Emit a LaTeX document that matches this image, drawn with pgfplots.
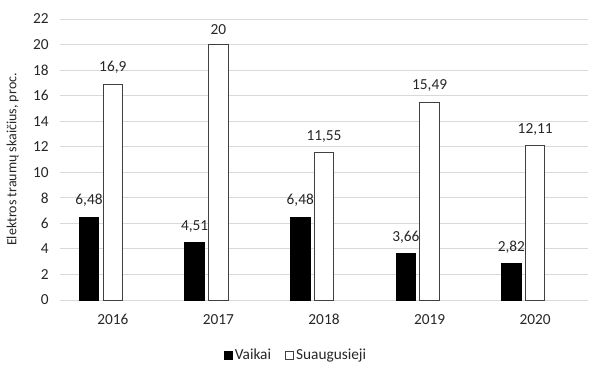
\documentclass[border=0pt]{standalone}
\usepackage{pgfplots}
\pgfplotsset{compat=1.18}
\usepackage{pgfplotstable}
\usepackage{fontspec}
\setmainfont{Carlito}
\pgfplotstableread{
x y
-0.225 6.48
0.775 4.51
1.775 6.48
2.775 3.66
3.775 2.82
}\vaikai
\pgfplotstableread{
x y
0 16.9
1 20
2 11.55
3 15.49
4 12.11
}\suaug
\pgfplotsset{sqleg/.style={legend image code/.code={\draw[##1] (0pt,-3pt) rectangle (6pt,3pt);}}}
\begin{document}
\begin{tikzpicture}
\begin{axis}[
  scale only axis, width=396pt, height=210.75pt,
  xmin=-0.5, xmax=4.5, ymin=0, ymax=22,
  ytick={0,2,...,22}, xtick={0,1,2,3,4}, xticklabels={2016,2017,2018,2019,2020},
  axis line style={draw=none}, major tick style={draw=none},
  ymajorgrids, grid style={draw=black!15, line width=0.75pt},
  ybar, bar width=0.185, bar shift=0pt,
  nodes near coords,
  every node near coord/.append style={font=\fontsize{11.5}{13}\selectfont, text=black!85, yshift=4pt},
  /pgf/number format/use comma,
  /pgf/number format/assume math mode=true,
  tick label style={font=\fontsize{11.5}{13}\selectfont, text=black!85},
  yticklabel style={xshift=-5pt},
  xticklabel style={yshift=-3pt},
  ylabel={Elektros traumų skaičius, proc.},
  every axis y label/.style={at={(rel axis cs:0,0.5)}, rotate=90, anchor=center, yshift=35.5pt,
    font=\fontsize{10.5}{12}\selectfont, text=black!85},
  legend style={at={(0.447,-0.196)}, anchor=center, legend columns=2, draw=none,
    font=\fontsize{11.5}{13}\selectfont, text=black!85,
    nodes={inner xsep=1.5pt},
    /tikz/every even column/.append style={column sep=9pt}},
]
\addplot[fill=black, draw=black, line width=0.75pt, sqleg] table[x=x,y=y] {\vaikai};
\addlegendentry{Vaikai}
\addplot[fill=white, draw=black!75, line width=0.75pt, sqleg] table[x=x,y=y] {\suaug};
\addlegendentry{Suaugusieji}
\end{axis}
\pgfresetboundingbox
\path[use as bounding box] (-45pt,-59.25pt) rectangle (405pt,225pt);
\end{tikzpicture}
\end{document}
